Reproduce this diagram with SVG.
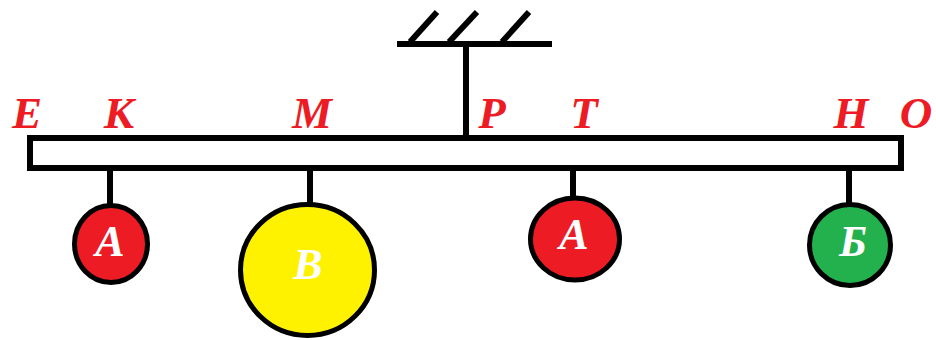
<svg xmlns="http://www.w3.org/2000/svg" width="936" height="340" viewBox="0 0 936 340">
<style>
.ln{stroke:#000;stroke-width:6;fill:none}
.wt{stroke:#000;stroke-width:5}
.lbl{font-family:"Liberation Serif",serif;font-weight:bold;font-style:italic;font-size:45px;fill:#ED1C24;text-anchor:middle}
.in{font-family:"Liberation Serif",serif;font-weight:bold;font-style:italic;font-size:44px;fill:#fff;text-anchor:middle}
</style>
<rect width="936" height="340" fill="#fff"/>
<g id="support">
<line class="ln" x1="397" y1="44" x2="552" y2="44"/>
<line class="ln" x1="410" y1="42" x2="437" y2="12"/>
<line class="ln" x1="449" y1="42" x2="477" y2="12"/>
<line class="ln" x1="502" y1="42" x2="529" y2="12"/>
<line class="ln" x1="466" y1="44" x2="466" y2="138"/>
</g>
<g id="lever">
<rect class="ln" x="30" y="138" width="871" height="30"/>
</g>
<g id="connectors">
<line class="ln" x1="110" y1="168" x2="110" y2="205"/>
<line class="ln" x1="310" y1="168" x2="310" y2="203"/>
<line class="ln" x1="573" y1="168" x2="573" y2="197"/>
<line class="ln" x1="849" y1="168" x2="849" y2="204"/>
</g>
<g id="labels">
<text class="lbl" x="27" y="128">Е</text>
<text class="lbl" x="119" y="128">К</text>
<text class="lbl" x="312" y="128">М</text>
<text class="lbl" x="492" y="128">Р</text>
<text class="lbl" x="584" y="128">Т</text>
<text class="lbl" x="851" y="128">Н</text>
<text class="lbl" x="916" y="128">О</text>
</g>
<g id="weightA1">
<ellipse class="wt" cx="111" cy="244" rx="36.5" ry="38.5" fill="#ED1C24"/>
<text class="in" x="110" y="256">А</text>
</g>
<g id="weightB">
<ellipse class="wt" cx="307.5" cy="270" rx="67" ry="65.5" fill="#FFF200"/>
<text class="in" x="308" y="279">В</text>
</g>
<g id="weightA2">
<ellipse class="wt" cx="575" cy="239" rx="44.5" ry="41" fill="#ED1C24"/>
<text class="in" x="574" y="249">А</text>
</g>
<g id="weightБ">
<ellipse class="wt" cx="850" cy="245" rx="40.5" ry="40.5" fill="#22B14C"/>
<text class="in" x="853" y="256">Б</text>
</g>
</svg>
